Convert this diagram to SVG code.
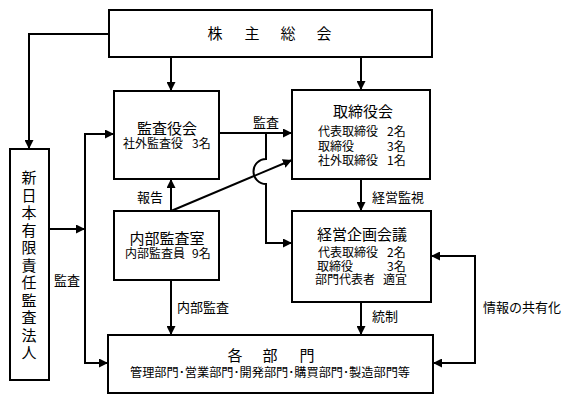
<svg xmlns="http://www.w3.org/2000/svg" width="572" height="402" viewBox="0 0 572 402">
<defs>
<marker id="ah" viewBox="0 0 10 10" refX="10" refY="5" markerWidth="9" markerHeight="9" markerUnits="userSpaceOnUse" orient="auto-start-reverse">
<path d="M0,0 L10,5 L0,10 z" fill="#000"/>
</marker>
<style>
.box{fill:#fff;stroke:#000;stroke-width:2}
.ln{fill:none;stroke:#000;stroke-width:2}
.t{font-family:"Noto Sans CJK JP","Noto Sans CJK SC",sans-serif;fill:#000}
.tt{font-size:15px}
.st{font-size:12px}
.lb{font-size:13px}
.m{text-anchor:middle}
</style>
</defs>
<rect width="572" height="402" fill="#fff"/>
<g id="connectors">
<path class="ln" d="M171,57 V91" marker-end="url(#ah)"/>
<path class="ln" d="M361,57 V90" marker-end="url(#ah)"/>
<path class="ln" d="M109,34 H29 V149" marker-end="url(#ah)"/>
<path class="ln" d="M49,229 H85" marker-end="url(#ah)"/>
<path class="ln" d="M85,229 V134 H114" marker-end="url(#ah)"/>
<path class="ln" d="M85,229 V363 H108" marker-end="url(#ah)"/>
<path class="ln" d="M219,133 H292" marker-end="url(#ah)"/>
<path class="ln" d="M266,133 V159 A12,12 0 0 0 266,184 V243 H292" marker-end="url(#ah)"/>
<path class="ln" d="M171,211 L292,160" marker-end="url(#ah)"/>
<path class="ln" d="M171,211 V179" marker-end="url(#ah)"/>
<path class="ln" d="M361,179 V211" marker-end="url(#ah)"/>
<path class="ln" d="M171,280 V335" marker-end="url(#ah)"/>
<path class="ln" d="M361,302 V335" marker-end="url(#ah)"/>
<path class="ln" d="M431,256 H475 V363 H433" marker-start="url(#ah)" marker-end="url(#ah)"/>
<text class="t lb m" x="266" y="127">監査</text>
<text class="t lb m" x="150" y="202">報告</text>
<text class="t lb" x="372" y="202">経営監視</text>
<text class="t lb" x="177" y="312">内部監査</text>
<text class="t lb" x="372" y="321">統制</text>
<text class="t lb" x="483" y="312">情報の共有化</text>
<text class="t lb m" x="67" y="285">監査</text>
</g>
<g id="shareholders">
<rect class="box" x="109" y="10" width="323" height="47"/>
<text class="t tt m" x="215" y="39">株</text>
<text class="t tt m" x="252" y="39">主</text>
<text class="t tt m" x="288" y="39">総</text>
<text class="t tt m" x="324" y="39">会</text>
</g>
<g id="auditor">
<rect class="box" x="10" y="149" width="39" height="231"/>
<text class="t tt m"><tspan x="29" y="183">新</tspan><tspan x="29" dy="17.5">日</tspan><tspan x="29" dy="17.5">本</tspan><tspan x="29" dy="17.5">有</tspan><tspan x="29" dy="17.5">限</tspan><tspan x="29" dy="17.5">責</tspan><tspan x="29" dy="17.5">任</tspan><tspan x="29" dy="17.5">監</tspan><tspan x="29" dy="17.5">査</tspan><tspan x="29" dy="17.5">法</tspan><tspan x="29" dy="17.5">人</tspan></text>
</g>
<g id="audit-board">
<rect class="box" x="114" y="91" width="105" height="88"/>
<text class="t tt m" x="167" y="134">監査役会</text>
<text class="t st" x="123" y="148">社外監査役</text><text class="t st" x="192" y="148">3名</text>
</g>
<g id="board">
<rect class="box" x="292" y="90" width="138" height="89"/>
<text class="t tt m" x="363" y="117">取締役会</text>
<text class="t st" x="318" y="136">代表取締役</text><text class="t st" x="387" y="136">2名</text>
<text class="t st" x="318" y="151">取締役</text><text class="t st" x="387" y="151">3名</text>
<text class="t st" x="318" y="165">社外取締役</text><text class="t st" x="387" y="165">1名</text>
</g>
<g id="internal-audit">
<rect class="box" x="114" y="211" width="105" height="69"/>
<text class="t tt m" x="167" y="244">内部監査室</text>
<text class="t st" x="125" y="258">内部監査員</text><text class="t st" x="192" y="258">9名</text>
</g>
<g id="planning">
<rect class="box" x="292" y="211" width="139" height="91"/>
<text class="t tt m" x="362" y="240">経営企画会議</text>
<text class="t st" x="318" y="257">代表取締役</text><text class="t st" x="387" y="257">2名</text>
<text class="t st" x="317" y="271">取締役</text><text class="t st" x="387" y="271">3名</text>
<text class="t st" x="315" y="284">部門代表者</text><text class="t st" x="383" y="284">適宜</text>
</g>
<g id="departments">
<rect class="box" x="108" y="335" width="325" height="58"/>
<text class="t tt m" x="235" y="361">各</text>
<text class="t tt m" x="270" y="361">部</text>
<text class="t tt m" x="307" y="361">門</text>
<text class="t st" x="130" y="377" textLength="280" lengthAdjust="spacingAndGlyphs">管理部門･営業部門･開発部門･購買部門･製造部門等</text>
</g>
</svg>
